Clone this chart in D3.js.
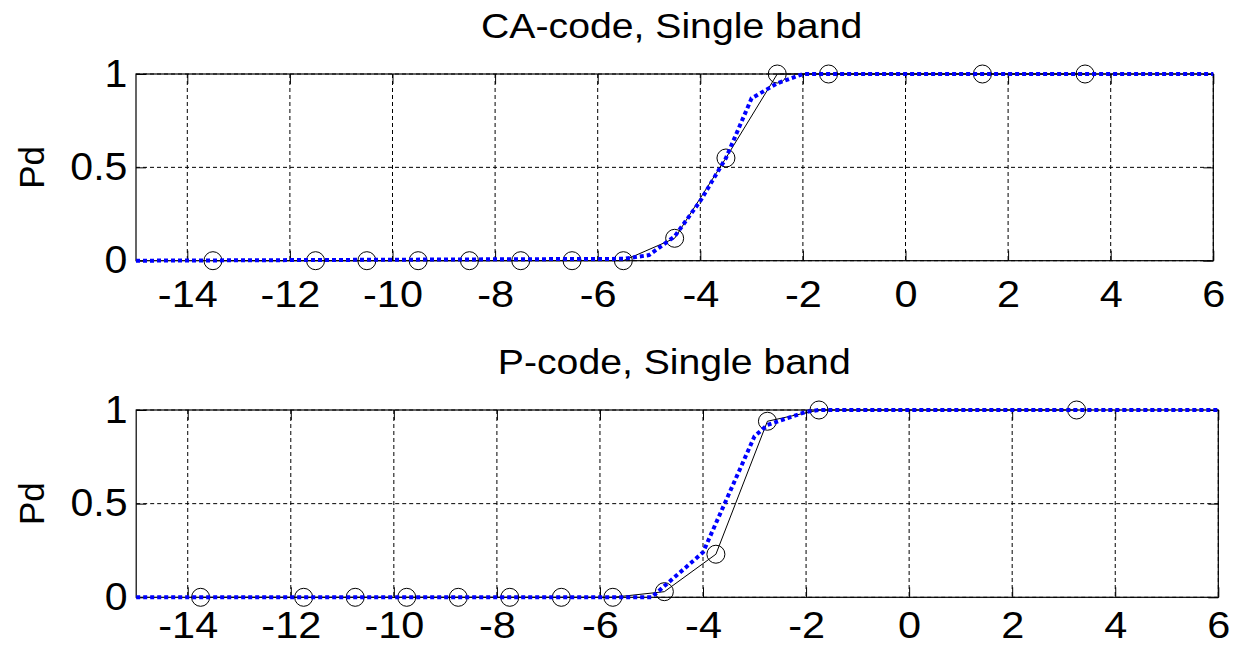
<!DOCTYPE html>
<html>
<head>
<meta charset="utf-8">
<script src="https://cdn.jsdelivr.net/npm/d3@7"></script>
<style>
  body { margin: 0; background: #fff; overflow: hidden; }
  text { font-family: "Liberation Sans", Arial, Helvetica, sans-serif; fill: #000; }
</style>
</head>
<body>
<div id="chart"></div>
<script>
// tick values shared by both panels
const xTicks = [-14, -12, -10, -8, -6, -4, -2, 0, 2, 4, 6];
const yTicks = [0, 0.5, 1];
const xDomain = [-15, 6];

// CA-code, measured (circles)
const caSnr = [-13.5, -11.5, -10.5, -9.5, -8.5, -7.5, -6.5, -5.5, -4.5, -3.5, -2.5, -1.5, 1.5, 3.5];
const caPd  = [0, 0, 0, 0, 0, 0, 0, 0, 0.12, 0.55, 1, 1, 1, 1];
// CA-code, theory (blue dotted)
const caTheorySnr = [-15, -5.5, -5, -4.5, -4, -3.5, -3, -2.5, -2, 6];
const caTheoryPd  = [0, 0.01, 0.03, 0.13, 0.32, 0.55, 0.87, 0.95, 1, 1];

// P-code, measured (circles)
const pSnr = [-13.75, -11.75, -10.75, -9.75, -8.75, -7.75, -6.75, -5.75, -4.75, -3.75, -2.75, -1.75, 3.25];
const pPd  = [0, 0, 0, 0, 0, 0, 0, 0, 0.03, 0.23, 0.94, 1, 1];
// P-code, theory (blue dotted)
const pTheorySnr = [-15, -5, -4.75, -4, -3.5, -3, -2.75, -2, -1.75, 6];
const pTheoryPd  = [0, 0, 0.06, 0.24, 0.55, 0.86, 0.92, 0.99, 1, 1];

const W = 1242, H = 646;

const svg = d3.select("#chart").append("svg")
    .attr("width", W)
    .attr("height", H)
    .style("display", "block");

const panels = [
    { title: "CA-code, Single band", box: { left: 136, right: 1213.3, top: 74, bottom: 260.7 },
      snr: caSnr, pd: caPd, tSnr: caTheorySnr, tPd: caTheoryPd, labelPad: 20 },
    { title: "P-code, Single band", box: { left: 136.2, right: 1218.3, top: 410, bottom: 597.3 },
      snr: pSnr, pd: pPd, tSnr: pTheorySnr, tPd: pTheoryPd, labelPad: 14 }
];

panels.forEach(p => drawPanel(p));

function drawPanel(p) {
    let b = p.box;
    let w = b.right - b.left, h = b.bottom - b.top;

    let x = d3.scaleLinear().domain(xDomain).range([0, w]);
    let y = d3.scaleLinear().domain([0, 1]).range([h, 0]);

    let g = svg.append("g").attr("transform", "translate(" + b.left + "," + b.top + ")");

    // grid
    g.append("g").selectAll("line")
        .data(xTicks).join("line")
        .attr("x1", d => x(d)).attr("x2", d => x(d))
        .attr("y1", 0).attr("y2", h)
        .attr("stroke", "#000").attr("stroke-width", 1)
        .attr("stroke-dasharray", "4,3");
    g.append("g").selectAll("line")
        .data(yTicks).join("line")
        .attr("x1", 0).attr("x2", w)
        .attr("y1", d => y(d)).attr("y2", d => y(d))
        .attr("stroke", "#000").attr("stroke-width", 1)
        .attr("stroke-dasharray", "4,3");

    // axes, ticks pointing inward (plain hyphen for negatives, like the original)
    let xAx = g.append("g").attr("transform", "translate(0," + h + ")")
        .call(d3.axisBottom(x).tickValues(xTicks).tickSize(-10).tickPadding(p.labelPad).tickFormat(d => String(d)));
    g.append("g")
        .call(d3.axisTop(x).tickValues(xTicks).tickSize(-10).tickFormat(""));
    let yAx = g.append("g")
        .call(d3.axisLeft(y).tickValues(yTicks).tickSize(-10).tickPadding(8).tickFormat(d => String(d)));
    g.append("g").attr("transform", "translate(" + w + ",0)")
        .call(d3.axisRight(y).tickValues(yTicks).tickSize(-10).tickFormat(""));

    g.selectAll(".domain").remove();
    g.selectAll(".tick line").attr("stroke", "#000");
    xAx.selectAll("text")
        .attr("font-size", 37)
        .attr("font-family", "Liberation Sans, Arial, sans-serif")
        .attr("transform", "scale(1.12,1)");
    yAx.selectAll("text")
        .attr("font-size", 38)
        .attr("font-family", "Liberation Sans, Arial, sans-serif")
        .attr("transform", "scale(1.08,1)");

    // box
    g.append("rect")
        .attr("width", w).attr("height", h)
        .attr("fill", "none").attr("stroke", "#000").attr("stroke-width", 1.2);

    // measured curve
    let line = d3.line().x(d => x(d[0])).y(d => y(d[1]));
    g.append("path")
        .datum(d3.zip(p.snr, p.pd))
        .attr("d", line)
        .attr("fill", "none").attr("stroke", "#000").attr("stroke-width", 1);
    g.append("g").selectAll("circle")
        .data(d3.zip(p.snr, p.pd)).join("circle")
        .attr("cx", d => x(d[0])).attr("cy", d => y(d[1]))
        .attr("r", 9)
        .attr("fill", "none").attr("stroke", "#000").attr("stroke-width", 1);

    // theory curve
    g.append("path")
        .datum(d3.zip(p.tSnr, p.tPd))
        .attr("d", line)
        .attr("fill", "none").attr("stroke", "#0000ff").attr("stroke-width", 4)
        .attr("stroke-dasharray", "4,3");

    // title
    g.append("text")
        .attr("transform", "translate(" + (w / 2 - 3) + ",-36) scale(1.12,1)")
        .attr("text-anchor", "middle")
        .attr("font-size", 35)
        .text(p.title);

    // y label
    g.append("text")
        .attr("transform", "translate(" + (44 - b.left) + "," + (h / 2) + ") rotate(-90)")
        .attr("text-anchor", "middle")
        .attr("font-size", 35)
        .text("Pd");
}
</script>
</body>
</html>
